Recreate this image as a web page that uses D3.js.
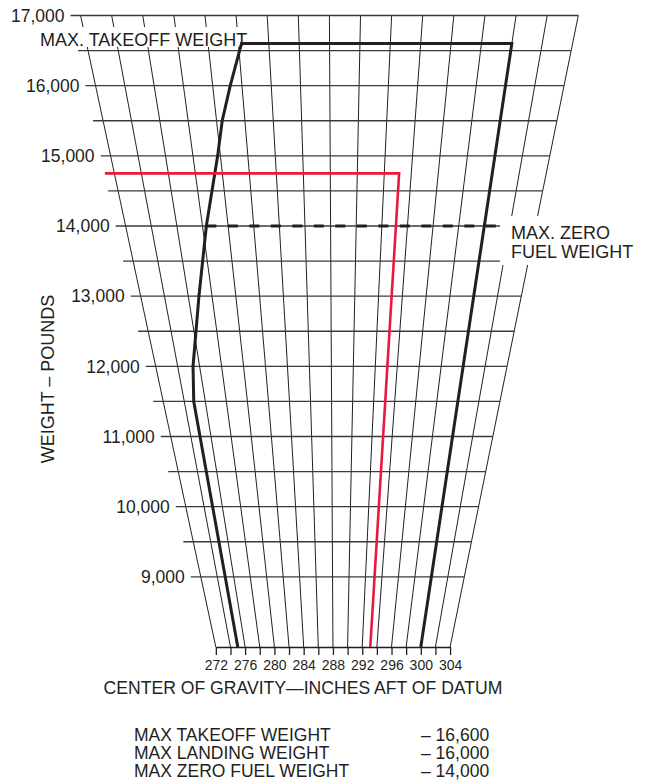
<!DOCTYPE html>
<html>
<head>
<meta charset="utf-8">
<script src="https://cdn.jsdelivr.net/npm/d3@7"></script>
<style>
  body { margin: 0; background: #fff; }
  text { font-family: "Liberation Sans", Arial, sans-serif; fill: #231f20; }
</style>
</head>
<body>
<div id="chart"></div>
<script>
// CG lines of the fan grid (inches aft of datum)
var cgTicks = [272, 274, 276, 278, 280, 282, 284, 286, 288, 290, 292, 294, 296, 298, 300, 302, 304];
// weight rows of the grid and the labelled ones (pounds)
var gridWeights = [9000, 9500, 10000, 10500, 11000, 11500, 12000, 12500, 13000, 13500, 14000, 14500, 15000, 15500, 16000, 16500, 17000];
var weightTicks = [9000, 10000, 11000, 12000, 13000, 14000, 15000, 16000, 17000];

// CG envelope outline
var envelopeWeight = [8000, 11500, 12000, 13000, 14000, 15000, 15500, 16000, 16600, 16600, 8000];
var envelopeCG     = [275, 274.9, 275.4, 276.9, 278.3, 279.8, 280.4, 281.2, 282.2, 300, 300];

// max zero fuel weight line
var zeroFuelWeight = 14000;
var zeroFuelCG = [278.3, 301.2];

// red example: loaded weight and CG
var exampleWeight = [14750, 14750, 8000];
var exampleCG     = [271.3, 293.1, 293.1];

var limitNames  = ["MAX TAKEOFF WEIGHT", "MAX LANDING WEIGHT", "MAX ZERO FUEL WEIGHT"];
var limitValues = ["\u2013 16,600", "\u2013 16,000", "\u2013 14,000"];

plot_cg_chart("#chart", 645, 784);

function plot_cg_chart(htmlObjectId, width, height) {

    var ink = "#231f20";
    var refCG = 288.43;   // CG whose line stands vertical

    // weight -> vertical position
    var yScale = d3.scaleLinear()
                    .domain([8000, 17000])
                    .range([647, 15.5]);

    // moment (weight * arm from refCG) -> horizontal position
    var momentScale = d3.scaleLinear()
                    .domain([-300000, 300000])
                    .range([61.6, 610.6]);

    function px(w, cg) { return momentScale(w * (cg - refCG)); }

    var canvas = d3.select(htmlObjectId)
                    .append("svg")
                    .attr("width", width)
                    .attr("height", height);

    // slanted CG lines
    canvas.append("g")
        .selectAll("line")
        .data(cgTicks)
      .enter().append("line")
        .attr("x1", function(d) { return px(8000, d); })
        .attr("y1", yScale(8000))
        .attr("x2", function(d) { return px(17000, d); })
        .attr("y2", yScale(17000))
        .attr("stroke", ink)
        .attr("stroke-width", 1);

    // weight rows, each sticking out a bit left of the 272 line
    canvas.append("g")
        .selectAll("line")
        .data(gridWeights)
      .enter().append("line")
        .attr("x1", function(d) { return px(d, cgTicks[0]) - 10; })
        .attr("x2", function(d) { return px(d, cgTicks[cgTicks.length - 1]); })
        .attr("y1", function(d) { return yScale(d); })
        .attr("y2", function(d) { return yScale(d); })
        .attr("stroke", "#3a3a3a")
        .attr("stroke-width", 1.3);

    // weight labels follow the slanted left edge
    canvas.append("g")
        .selectAll("text")
        .data(weightTicks)
      .enter().append("text")
        .attr("x", function(d) { return px(d, cgTicks[0]) - 16; })
        .attr("y", function(d) { return yScale(d); })
        .attr("dy", "0.36em")
        .attr("text-anchor", "end")
        .style("font-size", "17.5px")
        .text(d3.format(","));

    // bottom CG axis at the lowest weight
    var cgScale = d3.scaleLinear()
                    .domain([cgTicks[0], cgTicks[cgTicks.length - 1]])
                    .range([px(8000, cgTicks[0]), px(8000, cgTicks[cgTicks.length - 1])]);

    var xaxis = d3.axisBottom(cgScale)
                .tickValues(cgTicks)
                .tickSize(8)
                .tickSizeOuter(0)
                .tickPadding(5)
                .tickFormat(function(d) { return d % 4 === 0 ? d : ""; });

    var gx = canvas.append("g")
                .attr("transform", "translate(0," + yScale(8000) + ")")
                .call(xaxis);
    gx.select(".domain").attr("stroke", ink).attr("stroke-width", 1.3);
    gx.selectAll(".tick line").attr("stroke", ink).attr("stroke-width", 1.3);
    gx.selectAll("text")
        .style("font-family", "'Liberation Sans', Arial, sans-serif")
        .style("font-size", "14px")
        .attr("fill", ink);

    // white patches behind the two in-chart labels
    canvas.append("rect")
        .attr("x", 38).attr("y", 27)
        .attr("width", 212).attr("height", 20)
        .attr("fill", "#fff");
    canvas.append("rect")
        .attr("x", 500).attr("y", 216)
        .attr("width", 145).attr("height", 49)
        .attr("fill", "#fff");

    var line = d3.line()
                .x(function(d) { return px(d[0], d[1]); })
                .y(function(d) { return yScale(d[0]); });

    // envelope
    canvas.append("path")
        .datum(d3.zip(envelopeWeight, envelopeCG))
        .attr("d", line)
        .attr("fill", "none")
        .attr("stroke", ink)
        .attr("stroke-width", 3)
        .attr("stroke-linejoin", "miter");

    // zero fuel weight, dashed
    canvas.append("path")
        .datum(zeroFuelCG.map(function(c) { return [zeroFuelWeight, c]; }))
        .attr("d", line)
        .attr("fill", "none")
        .attr("stroke", ink)
        .attr("stroke-width", 3.2)
        .attr("stroke-dasharray", "10,11.5");

    // red example
    canvas.append("path")
        .datum(d3.zip(exampleWeight, exampleCG))
        .attr("d", line)
        .attr("fill", "none")
        .attr("stroke", "#e8193c")
        .attr("stroke-width", 2.6);

    // labels inside the chart
    canvas.append("text")
        .attr("x", 40).attr("y", 46)
        .style("font-size", "18px")
        .text("MAX. TAKEOFF WEIGHT");

    canvas.append("text")
        .attr("x", 511).attr("y", 239)
        .style("font-size", "18px")
        .text("MAX. ZERO");
    canvas.append("text")
        .attr("x", 511).attr("y", 257.5)
        .style("font-size", "18px")
        .text("FUEL WEIGHT");

    // axis titles
    canvas.append("text")
        .attr("transform", "translate(54,379) rotate(-90)")
        .attr("text-anchor", "middle")
        .style("font-size", "18px")
        .text("WEIGHT \u2013 POUNDS");

    canvas.append("text")
        .attr("x", 303).attr("y", 693.5)
        .attr("text-anchor", "middle")
        .style("font-size", "17.6px")
        .text("CENTER OF GRAVITY\u2014INCHES AFT OF DATUM");

    // weight limits table
    var rows = canvas.append("g")
        .selectAll("g")
        .data(d3.zip(limitNames, limitValues))
      .enter().append("g")
        .attr("transform", function(d, i) { return "translate(0," + (741 + i * 18.2) + ")"; });
    rows.append("text")
        .attr("x", 134)
        .style("font-size", "17.5px")
        .text(function(d) { return d[0]; });
    rows.append("text")
        .attr("x", 421)
        .style("font-size", "17.5px")
        .text(function(d) { return d[1]; });
}
</script>
</body>
</html>
